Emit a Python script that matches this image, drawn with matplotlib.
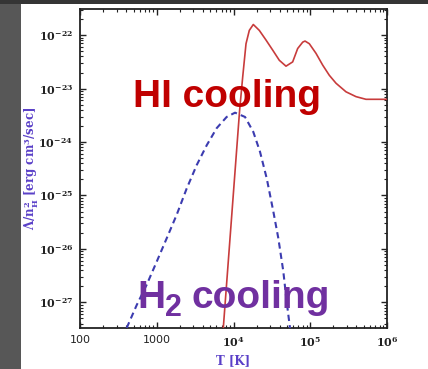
import numpy as np
import matplotlib
matplotlib.use("Agg")
import matplotlib.pyplot as plt
from matplotlib.patches import Rectangle
from matplotlib.ticker import FixedLocator, FixedFormatter, LogLocator, NullFormatter

plt.rcParams['mathtext.fontset'] = 'dejavuserif'
plt.rcParams['mathtext.default'] = 'bf'

# HI cooling curve (log10 T, log10 Lambda)
hi_logT = [3.867, 4.080, 4.120, 4.163, 4.206, 4.258, 4.336, 4.423, 4.511, 4.597,
           4.684, 4.771, 4.836, 4.902, 4.932, 4.988, 5.075, 5.162, 5.248, 5.336,
           5.466, 5.596, 5.726, 5.857, 6.0]
hi_logL = [-27.48, -23.40, -22.78, -22.16, -21.91, -21.80, -21.91, -22.09, -22.28, -22.47,
           -22.58, -22.50, -22.25, -22.13, -22.11, -22.16, -22.34, -22.56, -22.75, -22.90,
           -23.06, -23.15, -23.20, -23.20, -23.20]

# H2 cooling curve
h2_logT = [2.608, 2.739, 2.869, 2.999, 3.130, 3.260, 3.390, 3.521, 3.651, 3.781,
           3.911, 4.020, 4.150, 4.258, 4.345, 4.433, 4.519, 4.584, 4.649, 4.693, 4.736]
h2_logL = [-27.48, -27.05, -26.67, -26.24, -25.80, -25.36, -24.87, -24.43, -24.06, -23.74,
           -23.53, -23.45, -23.53, -23.81, -24.18, -24.68, -25.30, -25.80, -26.42, -26.99,
           -27.48]

xticks = [1e2, 1e3, 1e4, 1e5, 1e6]
xtick_labels = ['100', '1000', r'$10^{4}$', r'$10^{5}$', r'$10^{6}$']
yticks = [1e-27, 1e-26, 1e-25, 1e-24, 1e-23, 1e-22]
ytick_labels = [r'$10^{-27}$', r'$10^{-26}$', r'$10^{-25}$', r'$10^{-24}$', r'$10^{-23}$', r'$10^{-22}$']

W, H = 428, 369
fig = plt.figure(figsize=(W / 100, H / 100), dpi=100)
fig.patch.set_facecolor('#575757')
fig.patches.append(Rectangle((0, 1 - 4 / H), 1, 4 / H, transform=fig.transFigure,
                             facecolor='#353535', edgecolor='none', zorder=-10))
fig.patches.append(Rectangle((21 / W, 0), 1 - 21 / W, 1 - 4 / H, transform=fig.transFigure,
                             facecolor='white', edgecolor='none', zorder=-10))

ax = fig.add_axes([80 / W, 1 - 328 / H, (387 - 80) / W, (328 - 9) / H])
ax.set_facecolor('white')

ax.plot(10 ** np.array(hi_logT), 10 ** np.array(hi_logL), color='#c83c3c', lw=1.2,
        zorder=3, solid_joinstyle='round')
ax.plot(10 ** np.array(h2_logT), 10 ** np.array(h2_logL), color='#3c3cb0', lw=1.5,
        dashes=(3.0, 2.0), zorder=3)

ax.set_xscale('log')
ax.set_yscale('log')
ax.set_xlim(1e2, 1e6)
ax.set_ylim(10 ** -27.48, 10 ** -21.51)

ax.xaxis.set_major_locator(FixedLocator(xticks))
ax.xaxis.set_major_formatter(FixedFormatter(xtick_labels))
ax.yaxis.set_major_locator(FixedLocator(yticks))
ax.yaxis.set_major_formatter(FixedFormatter(ytick_labels))
ax.xaxis.set_minor_locator(LogLocator(base=10, subs=np.arange(2, 10), numticks=20))
ax.yaxis.set_minor_locator(LogLocator(base=10, subs=np.arange(2, 10), numticks=20))
ax.xaxis.set_minor_formatter(NullFormatter())
ax.yaxis.set_minor_formatter(NullFormatter())

ax.tick_params(which='both', direction='in', top=True, right=True, colors='#222222')
ax.tick_params(which='major', length=4.5, width=1.0, labelsize=8, pad=5)
ax.tick_params(which='minor', length=2.2, width=0.8)
for s in ax.spines.values():
    s.set_linewidth(1.3)
    s.set_color('#222222')

ax.set_xlabel(r'T [K]', color='#5a40c8', fontsize=8.5, family='DejaVu Serif',
              fontweight='bold', labelpad=4)
ax.set_ylabel(r'$\Lambda/n_{H}^{2}$ [erg cm$^{3}$/sec]', color='#5a40c8', fontsize=8.5,
              family='DejaVu Serif', fontweight='bold')
ax.yaxis.set_label_coords(-0.127, 0.5)

# annotations
fig.text(132.7 / W, 1 - 107.3 / H, 'HI cooling', color='#c00000', fontsize=28,
         family='Liberation Sans', fontweight='bold', va='baseline', ha='left', zorder=5)
fig.text(137 / W, 1 - 307.5 / H, 'H', color='#7030a0', fontsize=28,
         family='Liberation Sans', fontweight='bold', va='baseline', ha='left', zorder=5)
fig.text(165.5 / W, 1 - 316.5 / H, '2', color='#7030a0', fontsize=22,
         family='Liberation Sans', fontweight='bold', va='baseline', ha='left', zorder=5)
fig.text(191.5 / W, 1 - 307.5 / H, 'cooling', color='#7030a0', fontsize=28,
         family='Liberation Sans', fontweight='bold', va='baseline', ha='left', zorder=5)

fig.savefig('out.png', dpi=100, facecolor=fig.get_facecolor())
